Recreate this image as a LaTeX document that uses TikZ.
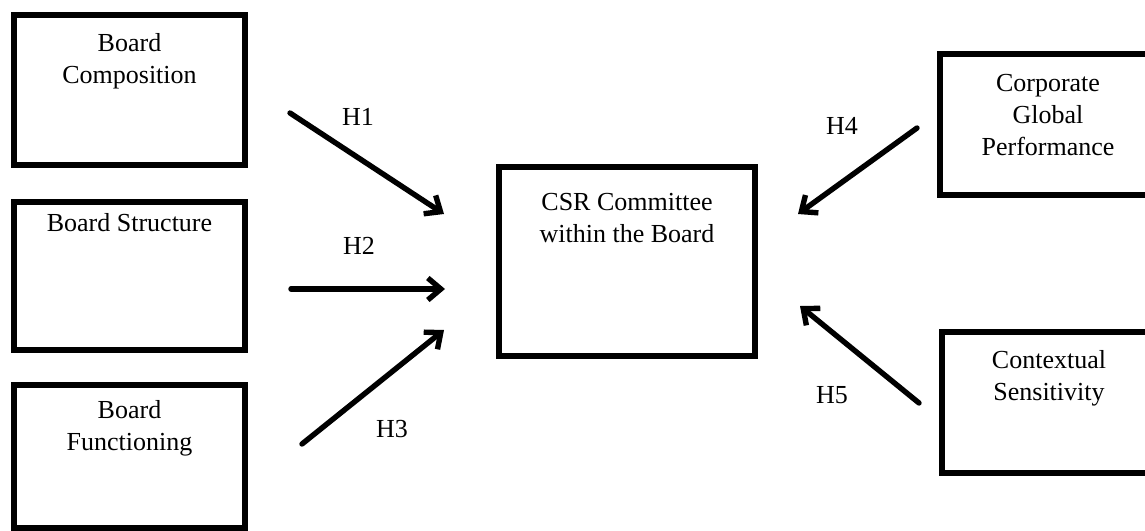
\documentclass[tikz,border=0pt]{standalone}
\usepackage{fontspec}
\setmainfont{Liberation Serif}
\usetikzlibrary{arrows.meta}

\begin{document}
\begin{tikzpicture}[x=0.5pt,y=-0.5pt]
	\tikzstyle{box} = [draw=black, line width=2.6pt, inner sep=0pt]
	\tikzstyle{txt} = [anchor=north, align=center, inner sep=0pt, font=\fontsize{13}{16}\selectfont]
	\tikzstyle{hyp} = [draw=black, line width=2.7pt, line cap=round, -{Straight Barb[length=6.5pt,width=11pt]}]
	\tikzstyle{hlabel} = [inner sep=0pt, font=\fontsize{13}{16}\selectfont]
	\clip (0,0) rectangle (1145,530);
		\node[box, minimum width=115.5pt, minimum height=75pt] (comp) at (129.5,90)
			[label={[txt, yshift=-10.5pt]north:Board\\Composition}] {};
		\node[box, minimum width=115.5pt, minimum height=74pt] (struct) at (129.5,276)
			[label={[txt, yshift=-7pt]north:Board Structure}] {};
		\node[box, minimum width=115.5pt, minimum height=71.5pt] (func) at (129.5,456.5)
			[label={[txt, yshift=-9pt]north:Board\\Functioning}] {};
		\node[box, minimum width=128pt, minimum height=94.5pt] (csr) at (627,261.5)
			[label={[txt, yshift=-14pt]north:CSR Committee\\within the Board}] {};
		\node[box, minimum width=108pt, minimum height=70.5pt] (corp) at (1048,124.5)
			[label={[txt, yshift=-11pt]north:Corporate\\Global\\Performance}] {};
		\node[box, minimum width=107pt, minimum height=70.5pt] (ctx) at (1049,402.5)
			[label={[txt, yshift=-10.5pt]north:Contextual\\Sensitivity}] {};
	% free ends of the arrows
	\coordinate (h1s) at (290,113);
	\coordinate (h1e) at (444,214);
	\coordinate (h2s) at (291,289);
	\coordinate (h2e) at (445,289);
	\coordinate (h3s) at (302,444);
	\coordinate (h3e) at (444,330);
	\coordinate (h4s) at (917,128);
	\coordinate (h4e) at (798,214);
	\coordinate (h5s) at (919,403);
	\coordinate (h5e) at (800,306);
	\draw[hyp] (h1s) -- (h1e);
	\draw[hyp] (h2s) -- (h2e);
	\draw[hyp] (h3s) -- (h3e);
	\draw[hyp] (h4s) -- (h4e);
	\draw[hyp] (h5s) -- (h5e);
		\node[hlabel] (l1) at (358,117) {H1};
		\node[hlabel] (l2) at (359,246) {H2};
		\node[hlabel] (l3) at (392,429) {H3};
		\node[hlabel] (l4) at (842,126) {H4};
		\node[hlabel] (l5) at (832,395) {H5};
	\end{tikzpicture}
\end{document}
